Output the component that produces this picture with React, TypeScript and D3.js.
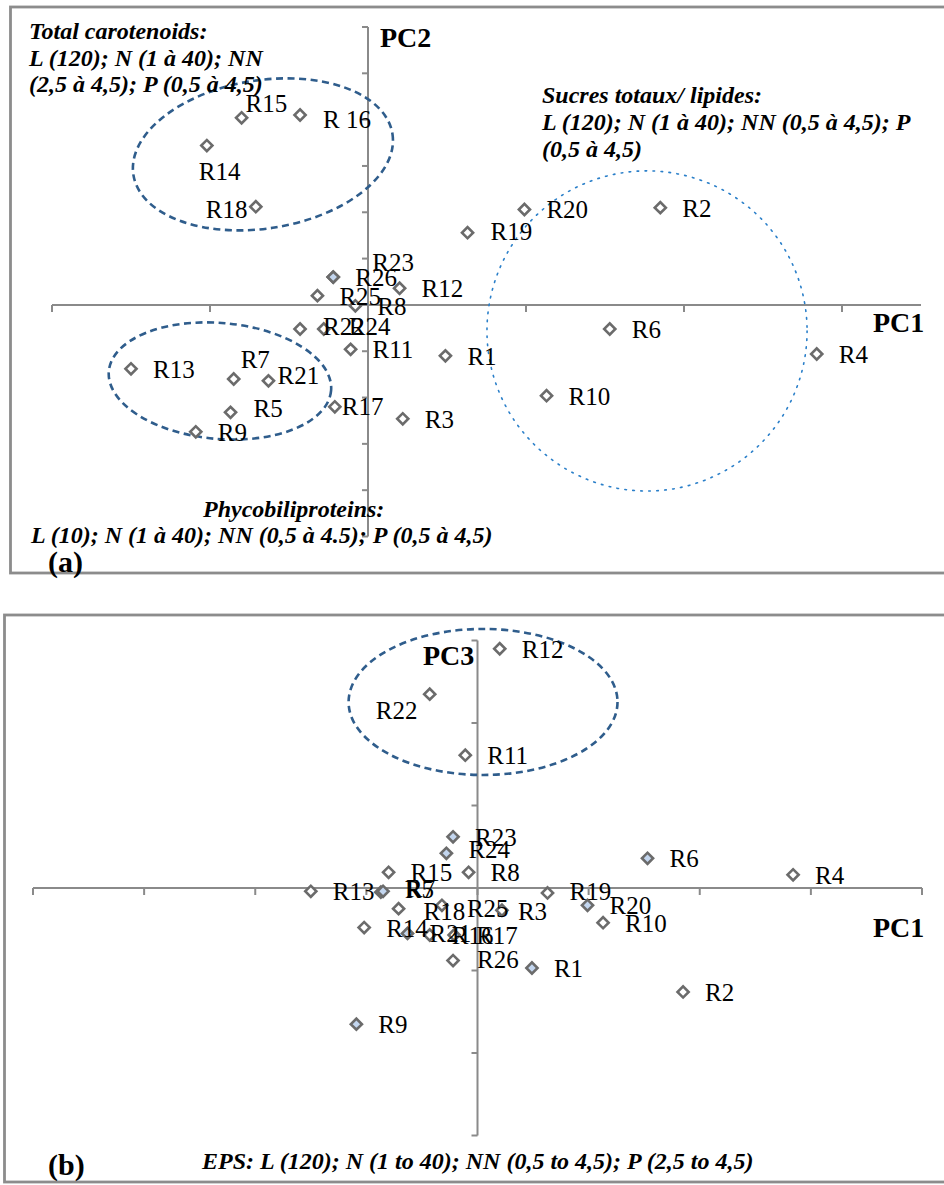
import React from "react";
import * as d3 from "d3";

// Sample codes and their principal-component scores
const SAMPLES = [
  "R1", "R2", "R3", "R4", "R5", "R6", "R7", "R8", "R9", "R10", "R11", "R12", "R13",
  "R14", "R15", "R16", "R17", "R18", "R19", "R20", "R21", "R22", "R23", "R24", "R25", "R26",
];
const PC1 = [
  0.49, 1.85, 0.22, 2.84, -0.87, 1.53, -0.85, -0.08, -1.09, 1.13, -0.11, 0.2, -1.5,
  -1.02, -0.8, -0.43, -0.21, -0.71, 0.63, 0.99, -0.63, -0.43, -0.22, -0.28, -0.32, -0.22,
];
const PC2 = [
  -0.55, 1.05, -1.23, -0.53, -1.16, -0.26, -0.8, -0.01, -1.37, -0.98, -0.48, 0.18, -0.69,
  1.72, 2.02, 2.05, -1.1, 1.06, 0.78, 1.03, -0.82, -0.26, 0.3, -0.26, 0.1, 0.3,
];
const PC3 = [
  -0.97, -1.26, -0.27, 0.16, -0.05, 0.36, -0.04, 0.19, -1.65, -0.42, 1.61, 2.9, -0.04,
  -0.48, 0.19, -0.57, -0.57, -0.25, -0.06, -0.21, -0.55, 2.35, 0.62, 0.42, -0.21, -0.88,
];

// Axis ranges and tick values
const X_DOMAIN_A = [-2, 3.5];
const Y_DOMAIN_A = [-2.5, 3];
const X_TICKS_A = [-2, -1, 0, 1, 2, 3];
const Y_TICKS_A = [-2.5, -2, -1.5, -1, -0.5, 0, 0.5, 1, 1.5, 2, 2.5, 3];
const X_DOMAIN_B = [-4, 4];
const Y_DOMAIN_B = [-3, 3];
const X_TICKS_B = [-4, -3, -2, -1, 0, 1, 2, 3, 4];
const Y_TICKS_B = [-3, -2, -1, 0, 1, 2, 3];

// Group annotations
const NOTE_CAROTENOIDS = ["Total carotenoids:", "L (120); N (1 à 40); NN", "(2,5 à 4,5); P (0,5 à 4,5)"];
const NOTE_SUGARS = ["Sucres totaux/ lipides:", "L (120); N (1 à 40); NN (0,5 à 4,5); P", "(0,5 à 4,5)"];
const NOTE_PHYCO = ["Phycobiliproteins:", "L (10); N (1 à 40); NN (0,5 à 4.5); P (0,5 à 4,5)"];
const NOTE_EPS = "EPS: L (120); N (1 to 40); NN (0,5 to 4,5); P (2,5 to 4,5)";

// Label tweaks (offset of label baseline from marker centre)
const DEFAULT_OFFSET = { dx: 22, dy: 9 };
const OFFSETS_A: Record<string, { dx: number; dy: number }> = {
  R15: { dx: 4, dy: -6 },
  R16: { dx: 23, dy: 13 },
  R14: { dx: -8, dy: 34 },
  R18: { dx: -50, dy: 11 },
  R7: { dx: 7, dy: -11 },
  R21: { dx: 9, dy: 3 },
  R23: { dx: 39, dy: -6 },
  R17: { dx: 7, dy: 8 },
  R22: { dx: 23, dy: 6 },
  R24: { dx: 25, dy: 6 },
  R19: { dx: 23, dy: 7 },
  R5: { dx: 23, dy: 5 },
};
const OFFSETS_B: Record<string, { dx: number; dy: number }> = {
  R22: { dx: -54, dy: 25 },
  R3: { dx: 16, dy: 10 },
  R24: { dx: 22, dy: 5 },
  R5: { dx: 24, dy: 6 },
  R7: { dx: 23, dy: 6 },
  R18: { dx: 25, dy: 11 },
  R25: { dx: 25, dy: 12 },
  R19: { dx: 22, dy: 7 },
  R26: { dx: 24, dy: 7 },
};
const LABEL_TEXT_A: Record<string, string> = { R16: "R 16" };
const FILLED_A = new Set(["R26"]);
const FILLED_B = new Set(["R23", "R24", "R5", "R7", "R20", "R1", "R9", "R21", "R6"]);

const SERIF = "Liberation Serif, Tinos, Times New Roman, DejaVu Serif, serif";
const AXIS_COLOR = "#8a8a8a";
const MARKER_STROKE = "#6b6b6b";
const GROUP_COLOR = "#2f5d8c";
const DOT_COLOR = "#2a7fc9";

const diamond = d3.symbol().type(d3.symbolSquare).size(62)() as string;

type Scale = d3.ScaleLinear<number, number>;

const txt = (size: number, bold = false, italic = false): React.CSSProperties => ({
  fontFamily: SERIF,
  fontSize: size,
  fontWeight: bold ? 700 : 400,
  fontStyle: italic ? "italic" : "normal",
});

function Axes({ x, y, xTicks, yTicks }: { x: Scale; y: Scale; xTicks: number[]; yTicks: number[] }) {
  const x0 = x(0);
  const y0 = y(0);
  const [xa, xb] = x.range();
  const [ya, yb] = y.range();
  return (
    <g stroke={AXIS_COLOR} strokeWidth={2} fill="none">
      <line x1={xa} x2={xb} y1={y0} y2={y0} />
      {xTicks.map((t) => (
        <line key={"xt" + t} x1={x(t)} x2={x(t)} y1={y0} y2={y0 + 7} />
      ))}
      <line x1={x0} x2={x0} y1={ya} y2={yb} />
      {yTicks.map((t) => (
        <line key={"yt" + t} x1={x0 - 6} x2={x0} y1={y(t)} y2={y(t)} />
      ))}
    </g>
  );
}

function Points({
  x, y, xs, ys, offsets, filled, texts,
}: {
  x: Scale; y: Scale; xs: number[]; ys: number[];
  offsets: Record<string, { dx: number; dy: number }>;
  filled: Set<string>; texts?: Record<string, string>;
}) {
  return (
    <g>
      {SAMPLES.map((s, i) => (
        <path
          key={"m" + s}
          d={diamond}
          transform={`translate(${x(xs[i])},${y(ys[i])}) rotate(45)`}
          fill={filled.has(s) ? "#c3d6ef" : "#ffffff"}
          stroke={MARKER_STROKE}
          strokeWidth={2.6}
        />
      ))}
      {SAMPLES.map((s, i) => {
        const o = offsets[s] || DEFAULT_OFFSET;
        return (
          <text key={"l" + s} x={x(xs[i]) + o.dx} y={y(ys[i]) + o.dy} style={txt(25)} fill="#000">
            {(texts && texts[s]) || s}
          </text>
        );
      })}
    </g>
  );
}

function Note({ lines, x, y, step, size = 24 }: { lines: string[]; x: number | number[]; y: number; step: number; size?: number }) {
  return (
    <g fill="#000">
      {lines.map((l, i) => (
        <text key={i} x={Array.isArray(x) ? x[i] : x} y={y + i * step} style={txt(size, true, true)}>
          {l}
        </text>
      ))}
    </g>
  );
}

function GroupEllipse({
  x, y, cx, cy, rx, ry, rotate = 0, dotted = false,
}: {
  x: Scale; y: Scale; cx: number; cy: number; rx: number; ry: number; rotate?: number; dotted?: boolean;
}) {
  const px = x(cx);
  const py = y(cy);
  const prx = Math.abs(x(cx + rx) - px);
  const pry = Math.abs(y(cy + ry) - py);
  return (
    <ellipse
      cx={px}
      cy={py}
      rx={prx}
      ry={pry}
      transform={`rotate(${rotate},${px},${py})`}
      fill="none"
      stroke={dotted ? DOT_COLOR : GROUP_COLOR}
      strokeWidth={dotted ? 1.6 : 2.6}
      strokeDasharray={dotted ? "1.6 6.4" : "7 4.5"}
      strokeLinecap={dotted ? "round" : "butt"}
    />
  );
}

export default function App() {
  // Panel (a): PC1 vs PC2
  const xa = d3.scaleLinear().domain(X_DOMAIN_A).range([52, 921]);
  const ya = d3.scaleLinear().domain(Y_DOMAIN_A).range([536.5, 27]);
  // Panel (b): PC1 vs PC3
  const xb = d3.scaleLinear().domain(X_DOMAIN_B).range([33, 922]);
  const yb = d3.scaleLinear().domain(Y_DOMAIN_B).range([1135.5, 640.5]);

  return (
    <svg
      width={944}
      height={1185}
      viewBox="0 0 944 1185"
      style={{ position: "absolute", left: 0, top: 0, background: "#fff" }}
    >
      <rect x={0} y={0} width={944} height={1185} fill="#fff" />

      {/* Panel (a) */}
      <rect x={10.5} y={7} width={960} height={566} fill="none" stroke="#8c8c8c" strokeWidth={2.8} />
      <Axes x={xa} y={ya} xTicks={X_TICKS_A} yTicks={Y_TICKS_A} />
      <GroupEllipse x={xa} y={ya} cx={-0.665} cy={1.625} rx={0.83} ry={0.8} rotate={-9} />
      <GroupEllipse x={xa} y={ya} cx={-0.937} cy={-0.821} rx={0.706} ry={0.626} rotate={5} />
      <GroupEllipse x={xa} y={ya} cx={1.766} cy={-0.281} rx={1.013} ry={1.728} dotted />
      <Points x={xa} y={ya} xs={PC1} ys={PC2} offsets={OFFSETS_A} filled={FILLED_A} texts={LABEL_TEXT_A} />
      <text x={380} y={47} style={txt(28, true)}>PC2</text>
      <text x={873} y={332} style={txt(28, true)}>PC1</text>
      <Note lines={NOTE_CAROTENOIDS} x={29} y={39} step={26.5} />
      <Note lines={NOTE_SUGARS} x={542} y={103} step={27} />
      <Note lines={NOTE_PHYCO} x={[203, 31]} y={517} step={26} />
      <text x={48} y={572} style={txt(30, true)}>(a)</text>

      {/* Panel (b) */}
      <rect x={4.5} y={615} width={960} height={567} fill="none" stroke="#8c8c8c" strokeWidth={2.8} />
      <Axes x={xb} y={yb} xTicks={X_TICKS_B} yTicks={Y_TICKS_B} />
      <GroupEllipse x={xb} y={yb} cx={0.05} cy={2.255} rx={1.21} ry={0.885} />
      <Points x={xb} y={yb} xs={PC1} ys={PC3} offsets={OFFSETS_B} filled={FILLED_B} />
      <text x={423} y={665} style={txt(28, true)}>PC3</text>
      <text x={873} y={937} style={txt(28, true)}>PC1</text>
      <Note lines={[NOTE_EPS]} x={202} y={1169} step={0} size={24} />
      <text x={48} y={1175} style={txt(30, true)}>(b)</text>
    </svg>
  );
}
